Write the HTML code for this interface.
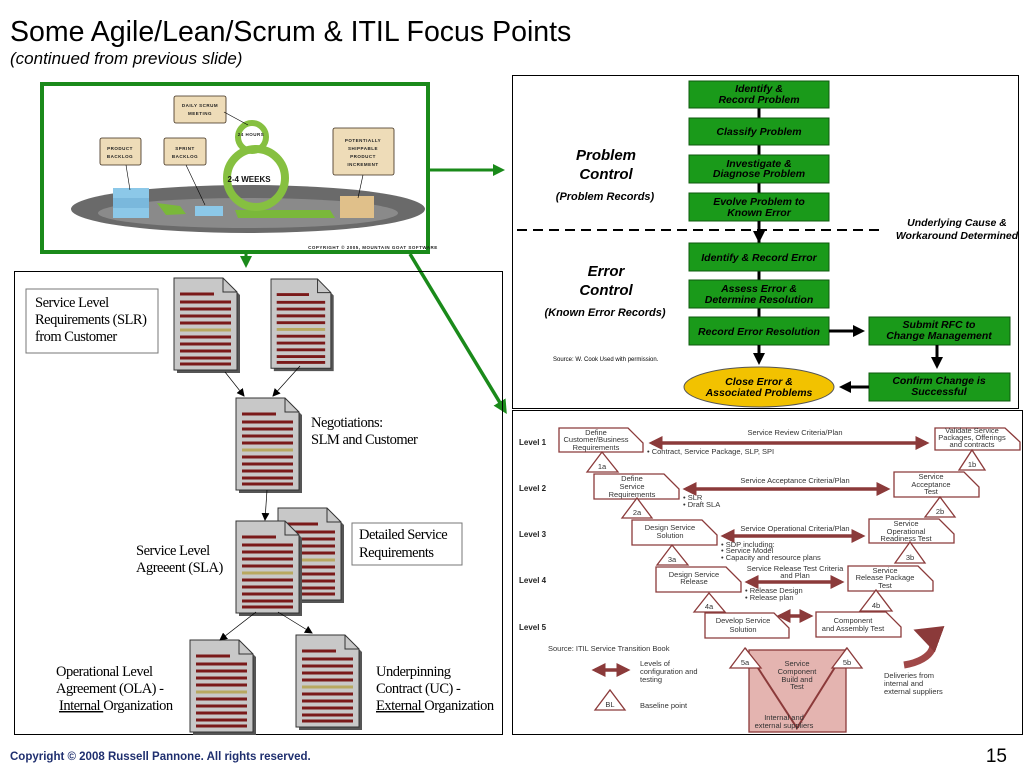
<!DOCTYPE html>
<html><head><meta charset="utf-8"><style>
html,body{margin:0;padding:0;background:#fff;}
svg{display:block;}
.s{font-family:"Liberation Sans",sans-serif;}
.sr{font-family:"Liberation Serif",serif;font-size:14.5px;fill:#000;letter-spacing:-0.5px;}
.g{font-family:"Liberation Sans",sans-serif;font-size:10.5px;font-weight:bold;font-style:italic;fill:#000;text-anchor:middle;}
.v{font-family:"Liberation Sans",sans-serif;font-size:7.5px;fill:#333;text-anchor:middle;}
.vl{font-family:"Liberation Sans",sans-serif;font-size:7.5px;fill:#333;}
.lv{font-family:"Liberation Sans",sans-serif;font-size:8px;font-weight:bold;fill:#222;}
.sc{font-family:"Liberation Sans",sans-serif;font-size:4.5px;font-weight:bold;fill:#222;text-anchor:middle;letter-spacing:0.5px;}
</style></head><body>
<svg width="1024" height="768" viewBox="0 0 1024 768" xmlns="http://www.w3.org/2000/svg">
<defs>
<marker id="ga" markerWidth="4" markerHeight="4" refX="3" refY="2" orient="auto"><path d="M0,0 L4,2 L0,4 z" fill="#1a8a1a"/></marker>
<marker id="ka" markerWidth="8" markerHeight="8" refX="7" refY="4" orient="auto" markerUnits="userSpaceOnUse"><path d="M0,0 L8,4 L0,8 z" fill="#000"/></marker>
<marker id="kb" markerWidth="4" markerHeight="4" refX="3" refY="2" orient="auto"><path d="M0,0 L4,2 L0,4 z" fill="#000"/></marker>
<marker id="ra" markerWidth="4" markerHeight="4" refX="3" refY="2" orient="auto"><path d="M0,0 L4,2 L0,4 z" fill="#8b3a3a"/></marker>
<marker id="rs" markerWidth="4" markerHeight="4" refX="1" refY="2" orient="auto"><path d="M4,0 L0,2 L4,4 z" fill="#8b3a3a"/></marker>
<g id="doc">
<path d="M3,3 H52 L66,17 V95 H3 Z" fill="#555"/>
<path d="M0,0 H49 L63,14 V92 H0 Z" fill="#c8c8c8" stroke="#333" stroke-width="1"/>
<path d="M49,0 V14 H63" fill="none" stroke="#333"/>
<g stroke="#7a1a1a" stroke-width="3">
<line x1="6" y1="16" x2="40" y2="16"/><line x1="6" y1="24" x2="57" y2="24"/><line x1="6" y1="31" x2="57" y2="31"/>
<line x1="6" y1="38" x2="57" y2="38"/><line x1="6" y1="45" x2="57" y2="45"/><line x1="6" y1="59" x2="57" y2="59"/>
<line x1="6" y1="66" x2="57" y2="66"/><line x1="6" y1="73" x2="57" y2="73"/><line x1="6" y1="80" x2="57" y2="80"/><line x1="6" y1="86" x2="57" y2="86"/>
</g>
<line x1="6" y1="52" x2="57" y2="52" stroke="#b8a860" stroke-width="3"/>
</g>
</defs>

<text x="10" y="41" class="s" font-size="28.5" fill="#000">Some Agile/Lean/Scrum &amp; ITIL Focus Points</text>
<text x="10" y="64" class="s" font-size="17" font-style="italic" fill="#000">(continued from previous slide)</text>
<text x="10" y="760" class="s" font-size="11.5" font-weight="bold" fill="#1f2f6f">Copyright © 2008 Russell Pannone. All rights reserved.</text>
<text x="1007" y="762" class="s" font-size="19" text-anchor="end" fill="#000">15</text>

<!-- scrum image -->
<rect x="42" y="84" width="386" height="168" fill="#fff" stroke="#1a8a1a" stroke-width="4"/>
<ellipse cx="248" cy="209" rx="177" ry="24" fill="#6a6a6a"/>
<ellipse cx="248" cy="213" rx="150" ry="15" fill="#8a8a8a"/>
<rect x="113" y="188" width="36" height="10" fill="#8cc8e8"/><rect x="113" y="198" width="36" height="10" fill="#7ab8dc"/><rect x="113" y="208" width="36" height="10" fill="#8cc8e8"/>
<rect x="195" y="206" width="28" height="10" fill="#8cc8e8"/>
<path d="M157,203 L180,206 L186,214 L166,215 Z" fill="#7ab83a"/>
<rect x="340" y="196" width="34" height="22" fill="#e0c08a"/>
<path d="M235,210 L330,210 L335,218 L238,218 Z" fill="#7ab83a"/>
<circle cx="256" cy="178" r="29" fill="none" stroke="#86c040" stroke-width="8"/>
<circle cx="252" cy="137" r="14" fill="none" stroke="#86c040" stroke-width="6"/>
<text x="249" y="182" class="s" font-size="8" font-weight="bold" text-anchor="middle" fill="#111">2-4 WEEKS</text>
<text x="251" y="136" class="sc">24 HOURS</text>
<g fill="#eedcb8" stroke="#3a2a1a" stroke-width="0.8">
<rect x="174" y="96" width="52" height="27" rx="2"/><rect x="100" y="138" width="41" height="27" rx="2"/><rect x="164" y="138" width="42" height="27" rx="2"/><rect x="333" y="128" width="61" height="47" rx="2"/>
</g>
<line x1="126" y1="165" x2="130" y2="190" stroke="#000" stroke-width="0.6"/><line x1="186" y1="165" x2="205" y2="205" stroke="#000" stroke-width="0.6"/><line x1="224" y1="112" x2="248" y2="125" stroke="#000" stroke-width="0.6"/><line x1="363" y1="175" x2="358" y2="198" stroke="#000" stroke-width="0.6"/>
<text x="200" y="107" class="sc">DAILY SCRUM</text><text x="200" y="115" class="sc">MEETING</text>
<text x="120" y="150" class="sc">PRODUCT</text><text x="120" y="158" class="sc">BACKLOG</text>
<text x="185" y="150" class="sc">SPRINT</text><text x="185" y="158" class="sc">BACKLOG</text>
<text x="363" y="142" class="sc">POTENTIALLY</text><text x="363" y="150" class="sc">SHIPPABLE</text><text x="363" y="158" class="sc">PRODUCT</text><text x="363" y="166" class="sc">INCREMENT</text>
<text x="373" y="249" class="sc" font-size="3.5">COPYRIGHT © 2005, MOUNTAIN GOAT SOFTWARE</text>

<!-- green connectors -->
<line x1="430" y1="170" x2="502" y2="170" stroke="#1a8a1a" stroke-width="3" marker-end="url(#ga)"/>
<line x1="246" y1="254" x2="246" y2="265" stroke="#1a8a1a" stroke-width="3" marker-end="url(#ga)"/>
<line x1="410" y1="254" x2="505" y2="411" stroke="#1a8a1a" stroke-width="3.5" marker-end="url(#ga)"/>

<!-- left panel -->
<rect x="14.5" y="271.5" width="488" height="463" fill="none" stroke="#000" stroke-width="1"/>
<rect x="26" y="289" width="132" height="64" fill="#fff" stroke="#777" stroke-width="1"/>
<text class="sr" x="35" y="307">Service Level</text><text class="sr" x="35" y="324">Requirements (SLR)</text><text class="sr" x="35" y="341">from Customer</text>
<use href="#doc" x="174" y="278"/>
<use href="#doc" x="271" y="279" transform="translate(271 279) scale(0.95 0.97) translate(-271 -279)"/>
<use href="#doc" x="236" y="398"/>
<use href="#doc" x="278" y="508"/>
<use href="#doc" x="236" y="521"/>
<use href="#doc" x="190" y="640"/>
<use href="#doc" x="296" y="635"/>
<g stroke="#000" stroke-width="0.7">
<line x1="225" y1="372" x2="244" y2="396" marker-end="url(#ka)"/>
<line x1="300" y1="366" x2="273" y2="396" marker-end="url(#ka)"/>
<line x1="267" y1="490" x2="265" y2="520" marker-end="url(#ka)"/>
<line x1="256" y1="612" x2="220" y2="640" marker-end="url(#ka)"/>
<line x1="278" y1="612" x2="312" y2="633" marker-end="url(#ka)"/>
</g>
<text class="sr" x="311" y="427">Negotiations:</text><text class="sr" x="311" y="444">SLM and Customer</text>
<rect x="352" y="523" width="110" height="42" fill="#fff" stroke="#777"/>
<text class="sr" x="359" y="539">Detailed Service</text><text class="sr" x="359" y="557">Requirements</text>
<text class="sr" x="136" y="555">Service Level</text><text class="sr" x="136" y="572">Agreeent (SLA)</text>
<text class="sr" x="56" y="676">Operational Level</text><text class="sr" x="56" y="693">Agreement (OLA) -</text><text class="sr" x="59" y="710"><tspan text-decoration="underline">Internal </tspan>Organization</text>
<text class="sr" x="376" y="676">Underpinning</text><text class="sr" x="376" y="693">Contract (UC) -</text><text class="sr" x="376" y="710"><tspan text-decoration="underline">External </tspan>Organization</text>

<!-- right upper panel -->
<rect x="512.5" y="75.5" width="506" height="333" fill="#fff" stroke="#000" stroke-width="1"/>
<g stroke="#000" stroke-width="3"><line x1="759" y1="108" x2="759" y2="345"/></g>
<line x1="517" y1="230" x2="880" y2="230" stroke="#000" stroke-width="2" stroke-dasharray="10,6"/>
<g fill="#1a9a1a" stroke="#0d5a0d" stroke-width="1">
<rect x="689" y="81" width="140" height="27"/><rect x="689" y="118" width="140" height="27"/><rect x="689" y="155" width="140" height="28"/><rect x="689" y="193" width="140" height="28"/>
<rect x="689" y="243" width="140" height="28"/><rect x="689" y="280" width="140" height="28"/><rect x="689" y="317" width="140" height="28"/>
<rect x="869" y="317" width="141" height="28"/><rect x="869" y="373" width="141" height="28"/>
</g>
<line x1="759" y1="221" x2="759" y2="240" stroke="#000" stroke-width="3" marker-end="url(#kb)"/>
<line x1="759" y1="345" x2="759" y2="362" stroke="#000" stroke-width="3" marker-end="url(#kb)"/>
<line x1="829" y1="331" x2="862" y2="331" stroke="#000" stroke-width="3" marker-end="url(#kb)"/>
<line x1="937" y1="345" x2="937" y2="366" stroke="#000" stroke-width="3" marker-end="url(#kb)"/>
<line x1="869" y1="387" x2="842" y2="387" stroke="#000" stroke-width="3" marker-end="url(#kb)"/>
<ellipse cx="759" cy="387" rx="75" ry="20" fill="#f2c200" stroke="#555" stroke-width="1"/>
<text class="g" x="759" y="92">Identify &amp;</text><text class="g" x="759" y="103">Record Problem</text>
<text class="g" x="759" y="135">Classify Problem</text>
<text class="g" x="759" y="167">Investigate &amp;</text><text class="g" x="759" y="177">Diagnose Problem</text>
<text class="g" x="759" y="205">Evolve Problem to</text><text class="g" x="759" y="216">Known Error</text>
<text class="g" x="759" y="261">Identify &amp; Record Error</text>
<text class="g" x="759" y="292">Assess Error &amp;</text><text class="g" x="759" y="303">Determine Resolution</text>
<text class="g" x="759" y="335">Record Error Resolution</text>
<text class="g" x="939" y="328">Submit RFC to</text><text class="g" x="939" y="339">Change Management</text>
<text class="g" x="939" y="384">Confirm Change is</text><text class="g" x="939" y="395">Successful</text>
<text class="g" x="759" y="385">Close Error &amp;</text><text class="g" x="759" y="396">Associated Problems</text>
<text class="g" x="957" y="226">Underlying Cause &amp;</text><text class="g" x="957" y="239">Workaround Determined</text>
<text class="s" x="606" y="160" font-size="15" font-weight="bold" font-style="italic" text-anchor="middle">Problem</text>
<text class="s" x="606" y="179" font-size="15" font-weight="bold" font-style="italic" text-anchor="middle">Control</text>
<text class="s" x="605" y="200" font-size="11" font-weight="bold" font-style="italic" text-anchor="middle">(Problem Records)</text>
<text class="s" x="606" y="276" font-size="15" font-weight="bold" font-style="italic" text-anchor="middle">Error</text>
<text class="s" x="606" y="295" font-size="15" font-weight="bold" font-style="italic" text-anchor="middle">Control</text>
<text class="s" x="605" y="316" font-size="11" font-weight="bold" font-style="italic" text-anchor="middle">(Known Error Records)</text>
<text class="s" x="553" y="361" font-size="6">Source: W. Cook Used with permission.</text>

<!-- right lower panel -->
<rect x="512.5" y="410.5" width="510" height="324" fill="#fff" stroke="#000" stroke-width="1"/>
<g fill="#fff" stroke="#8b3a3a" stroke-width="1.3">
<path d="M559,428 H628 L643,443 V452 H559 Z"/><path d="M935,428 H1005 L1020,442 V450 H935 Z"/>
<path d="M594,474 H664 L679,489 V499 H594 Z"/><path d="M894,472 H964 L979,487 V497 H894 Z"/>
<path d="M632,520 H702 L717,535 V545 H632 Z"/><path d="M869,519 H939 L954,534 V543 H869 Z"/>
<path d="M656,567 H726 L741,582 V592 H656 Z"/><path d="M848,566 H918 L933,581 V591 H848 Z"/>
<path d="M705,613 H774 L789,628 V638 H705 Z"/><path d="M816,612 H886 L901,627 V637 H816 Z"/>
</g>
<rect x="749" y="650" width="97" height="82" fill="#e4b4b0" stroke="#8b3a3a" stroke-width="1.3"/>
<path d="M745,648 L797,728 L847,648" fill="none" stroke="#8b3a3a" stroke-width="2"/>
<g fill="#fff" stroke="#8b3a3a" stroke-width="1.3">
<path d="M587,472 L602,452 L618,472 Z"/><path d="M959,470 L972,450 L985,470 Z"/>
<path d="M622,518 L637,498 L652,518 Z"/><path d="M925,517 L940,497 L955,517 Z"/>
<path d="M657,565 L672,545 L688,565 Z"/><path d="M895,563 L910,542 L925,563 Z"/>
<path d="M694,612 L709,593 L725,612 Z"/><path d="M860,611 L876,590 L892,611 Z"/>
<path d="M730,668 L745,648 L761,668 Z"/><path d="M832,668 L847,648 L862,668 Z"/>
<path d="M595,710 L610,690 L625,710 Z"/>
</g>
<g stroke="#8b3a3a" stroke-width="3.5">
<line x1="652" y1="443" x2="926" y2="443" marker-start="url(#rs)" marker-end="url(#ra)"/>
<line x1="686" y1="489" x2="887" y2="489" marker-start="url(#rs)" marker-end="url(#ra)"/>
<line x1="724" y1="536" x2="862" y2="536" marker-start="url(#rs)" marker-end="url(#ra)"/>
<line x1="748" y1="582" x2="841" y2="582" marker-start="url(#rs)" marker-end="url(#ra)"/>
<line x1="780" y1="616" x2="810" y2="616" marker-start="url(#rs)" marker-end="url(#ra)"/>
<line x1="595" y1="670" x2="627" y2="670" marker-start="url(#rs)" marker-end="url(#ra)"/>
</g>
<path d="M904,665 C935,660 942,640 920,632" fill="none" stroke="#a04848" stroke-width="7" marker-end="url(#ra)"/>
<text class="lv" x="519" y="445">Level 1</text><text class="lv" x="519" y="491">Level 2</text><text class="lv" x="519" y="537">Level 3</text><text class="lv" x="519" y="583">Level 4</text><text class="lv" x="519" y="630">Level 5</text>
<text class="v" x="596" y="435">Define</text><text class="v" x="596" y="442">Customer/Business</text><text class="v" x="596" y="450">Requirements</text>
<text class="v" x="972" y="433">Validate Service</text><text class="v" x="972" y="440">Packages, Offerings</text><text class="v" x="972" y="447">and contracts</text>
<text class="v" x="795" y="435">Service Review Criteria/Plan</text>
<text class="vl" x="647" y="454" font-size="6">• Contract, Service Package, SLP, SPI</text>
<text class="v" x="602" y="469">1a</text><text class="v" x="972" y="467">1b</text>
<text class="v" x="632" y="481">Define</text><text class="v" x="632" y="489">Service</text><text class="v" x="632" y="497">Requirements</text>
<text class="v" x="795" y="483">Service Acceptance Criteria/Plan</text>
<text class="v" x="931" y="479">Service</text><text class="v" x="931" y="487">Acceptance</text><text class="v" x="931" y="494">Test</text>
<text class="vl" x="683" y="500" font-size="6">• SLR</text><text class="vl" x="683" y="507" font-size="6">• Draft SLA</text>
<text class="v" x="637" y="515">2a</text><text class="v" x="940" y="514">2b</text>
<text class="v" x="670" y="530">Design Service</text><text class="v" x="670" y="538">Solution</text>
<text class="v" x="795" y="531">Service Operational Criteria/Plan</text>
<text class="v" x="906" y="526">Service</text><text class="v" x="906" y="534">Operational</text><text class="v" x="906" y="541">Readiness Test</text>
<text class="vl" x="721" y="547" font-size="6">• SDP including:</text><text class="vl" x="721" y="553" font-size="6">• Service Model</text><text class="vl" x="721" y="560" font-size="6">• Capacity and resource plans</text>
<text class="v" x="672" y="562">3a</text><text class="v" x="910" y="560">3b</text>
<text class="v" x="694" y="577">Design Service</text><text class="v" x="694" y="584">Release</text>
<text class="v" x="795" y="571">Service Release Test Criteria</text><text class="v" x="795" y="578">and Plan</text>
<text class="v" x="885" y="573">Service</text><text class="v" x="885" y="580">Release Package</text><text class="v" x="885" y="588">Test</text>
<text class="vl" x="745" y="593" font-size="6">• Release Design</text><text class="vl" x="745" y="600" font-size="6">• Release plan</text>
<text class="v" x="709" y="609">4a</text><text class="v" x="876" y="608">4b</text>
<text class="v" x="743" y="623">Develop Service</text><text class="v" x="743" y="632">Solution</text>
<text class="v" x="853" y="623">Component</text><text class="v" x="853" y="631">and Assembly Test</text>
<text class="vl" x="548" y="651" font-size="8">Source: ITIL Service Transition Book</text>
<text class="v" x="745" y="665">5a</text><text class="v" x="847" y="665">5b</text>
<text class="v" x="797" y="666">Service</text><text class="v" x="797" y="674">Component</text><text class="v" x="797" y="682">Build and</text><text class="v" x="797" y="689">Test</text>
<text class="v" x="784" y="720">Internal and</text><text class="v" x="784" y="728">external suppliers</text>
<text class="vl" x="640" y="666">Levels of</text><text class="vl" x="640" y="674">configuration and</text><text class="vl" x="640" y="682">testing</text>
<text class="v" x="610" y="707">BL</text><text class="vl" x="640" y="708">Baseline point</text>
<text class="vl" x="884" y="678">Deliveries from</text><text class="vl" x="884" y="686">internal and</text><text class="vl" x="884" y="694">external suppliers</text>
</svg>
</body></html>
